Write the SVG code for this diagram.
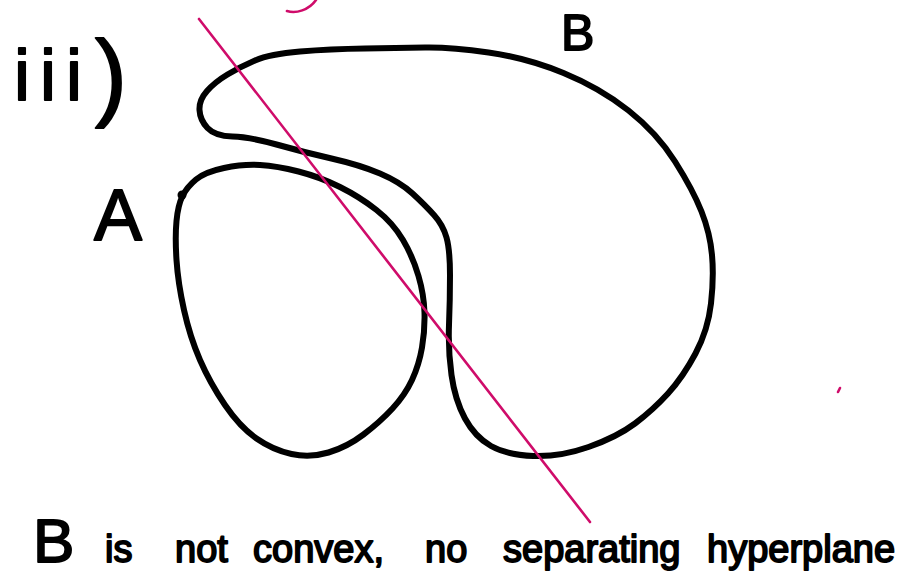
<svg xmlns="http://www.w3.org/2000/svg" width="916" height="581" viewBox="0 0 916 581">
  <style>
    .ink { fill: none; stroke: #000; stroke-width: 6; stroke-linecap: round; stroke-linejoin: round; }
    .pink { fill: none; stroke: #cf0c6a; stroke-width: 2.6; stroke-linecap: round; }
    .hand { font-family: "Liberation Sans", "DejaVu Sans", sans-serif; fill: #000; stroke: #000; stroke-width: 1.8; stroke-linejoin: round; }
  </style>
  <rect width="916" height="581" fill="#fff"/>

  <g id="label-iii">
    <text class="hand"><tspan x="14 40 66" y="100" font-size="72">iii</tspan><tspan x="95" y="108" font-size="96">)</tspan></text>
  </g>

  <g id="pink-mark">
    <path class="pink" d="M287,11 C296,14 309,10 316,0"/>
    <path class="pink" d="M838,392 L840,388" stroke-width="3"/>
  </g>

  <g id="set-B">
    <path class="ink" d="M227.5,74.5 Q240,67 255,60.5 Q270,54 300,51.5 Q330,49 365,48.5 Q400,48 425,47.5 Q450,47 488.5,52.5 Q527,58 563.5,73 Q600,88 628.5,110.5 Q657,133 675,161.5 Q693,190 701.5,211.5 Q710,233 712,255 Q714,277 711,303.5 Q708,330 695.5,353.5 Q683,377 668,393.5 Q653,410 635,423.5 Q617,437 588.5,447 Q560,457 533.5,456 Q507,455 491,446 Q475,437 465,418.5 Q455,400 451.5,375 Q448,350 449,325 Q450,300 450,275 Q450,250 446.5,237.5 Q443,225 434,215 Q425,205 412.5,193.5 Q400,182 380,173.5 Q360,165 331.5,158.5 Q303,152 276.5,144.5 Q250,137 232.5,136.5 Q215,136 207.5,128 Q200,120 199.5,110 Q199,100 207,91 Q215,82 227.5,74.5 Z"/>
    <text class="hand" x="561" y="50" font-size="50">B</text>
  </g>

  <g id="set-A">
    <path class="ink" d="M182.5,196 Q187,187 196,179.5 Q205,172 224,168 Q243,164 260,165 Q277,166 298.5,171.5 Q320,177 340,187 Q360,197 376.5,210 Q393,223 403,240 Q413,257 418.5,276 Q424,295 424.5,312.5 Q425,330 422,347.5 Q419,365 412,380 Q405,395 392.5,408.5 Q380,422 363.5,434.5 Q347,447 328.5,452.5 Q310,458 291.5,454 Q273,450 256.5,438.5 Q240,427 225,405 Q210,383 200,360 Q190,337 184,310 Q178,283 176.5,260 Q175,237 176.5,221 Q178,205 182.5,196 Z"/>
    <circle cx="182" cy="195" r="4.5" fill="#000"/>
    <text class="hand" x="94" y="240" font-size="72">A</text>
  </g>

  <g id="connectors">
    <line id="hyperplane" class="pink" x1="199" y1="19" x2="590" y2="522"/>
  </g>

  <g id="caption">
    <text class="hand" y="562" font-size="38"><tspan x="33" font-size="62">B</tspan><tspan x="105">is</tspan><tspan x="175">not</tspan><tspan x="253">convex,</tspan><tspan x="425">no</tspan><tspan x="503">separating</tspan><tspan x="707">hyperplane</tspan></text>
  </g>
</svg>
